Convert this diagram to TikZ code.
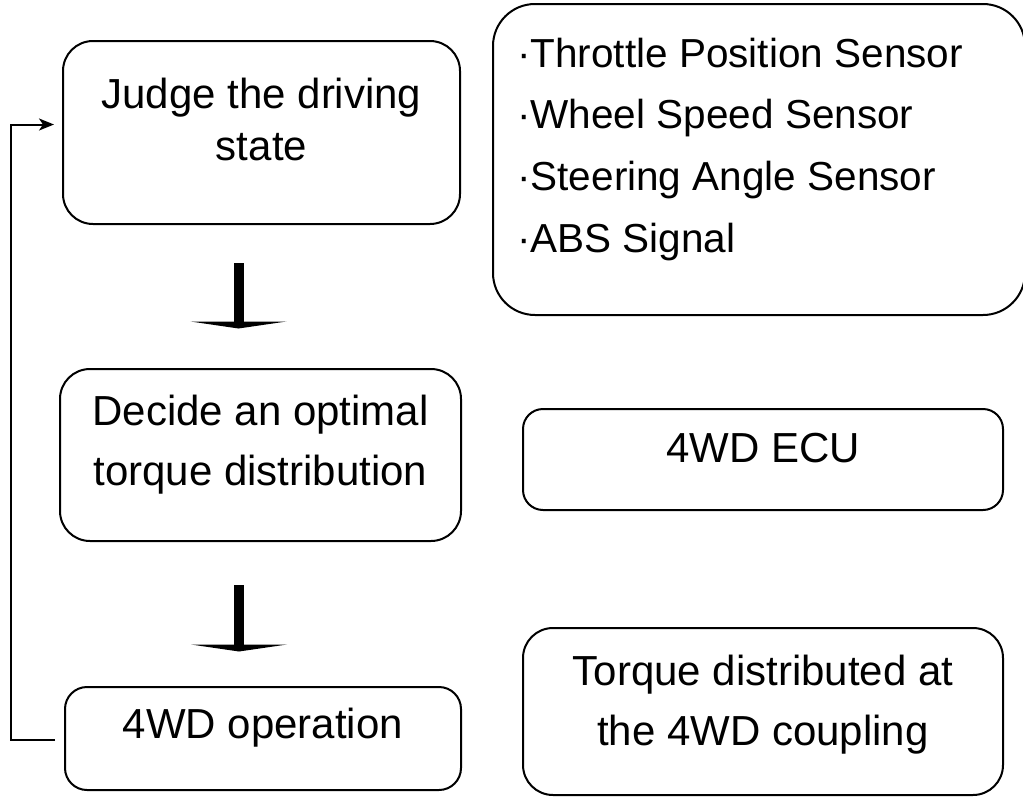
\documentclass[tikz,border=0pt]{standalone}
\usepackage{fontspec}
\setmainfont{Liberation Sans}
\usetikzlibrary{arrows.meta,calc}
\tikzset{
  box/.style={draw=black, line width=2pt, rectangle, inner sep=0pt},
  txt/.style={font=\fontsize{42}{50}\selectfont, inner sep=0pt, anchor=base},
  stxt/.style={font=\fontsize{40.5}{48}\selectfont, inner sep=0pt, anchor=base west},
  fb/.style={draw=black, line width=2pt},
}
\begin{document}
\begin{tikzpicture}[x=1pt,y=-1pt]
\useasboundingbox (0,0) rectangle (1023,798);
% left column boxes
\node[box, minimum width=397pt, minimum height=183pt, rounded corners=30pt] (b1) at (261.5,132.5) {};
\node[txt] (b1a) at (261.5,108) {Judge the driving};
\node[txt] (b1b) at (261.5,160) {state};

\node[box, minimum width=401pt, minimum height=172pt, rounded corners=30pt] (b2) at (260.5,455) {};
\node[txt] (b2a) at (260.5,425) {Decide an optimal};
\node[txt] (b2b) at (260.5,485) {torque distribution};

\node[box, minimum width=396pt, minimum height=103pt, rounded corners=22pt] (b3) at (263,738.5) {};
\node[txt] (b3a) at (263,738) {4WD operation};

% right column boxes
\node[box, minimum width=532pt, minimum height=311pt, rounded corners=42pt] (s) at (759,159.5) {};
\node[stxt] (s1) at (517,67) {·Throttle Position Sensor};
\node[stxt] (s2) at (517,128) {·Wheel Speed Sensor};
\node[stxt] (s3) at (517,190) {·Steering Angle Sensor};
\node[stxt] (s4) at (517,252) {·ABS Signal};

\node[box, minimum width=480pt, minimum height=101pt, rounded corners=20pt] (e) at (763,459.5) {};
\node[txt] (ea) at (763,462) {4WD ECU};

\node[box, minimum width=480pt, minimum height=167pt, rounded corners=30pt] (t) at (763,711.5) {};
\node[txt] (ta) at (763,685) {Torque distributed at};
\node[txt] (tb) at (763,745) {the 4WD coupling};

% thick down arrows
\coordinate (a1s) at (238.5,263);
\coordinate (a1e) at (238.5,322);
\fill (a1s) ++(-5,0) rectangle ([xshift=5pt]a1e);
\begin{scope}[shift={(a1e)}]
  \fill (-48,-0.5) -- (48,-0.5) -- (0,6.5) -- cycle;
\end{scope}

\coordinate (a2s) at (239,585);
\coordinate (a2e) at (239,645);
\fill (a2s) ++(-5,0) rectangle ([xshift=5pt]a2e);
\begin{scope}[shift={(a2e)}]
  \fill (-48,-0.5) -- (48,-0.5) -- (0,6.5) -- cycle;
\end{scope}

% feedback loop
\draw[fb, -{Stealth[length=15pt,width=12pt,inset=4pt]}]
  ([shift={(-9,1.5)}]b3.west) -- ++(-44,0) |- ([shift={(-8,-8)}]b1.west);
\end{tikzpicture}
\end{document}
